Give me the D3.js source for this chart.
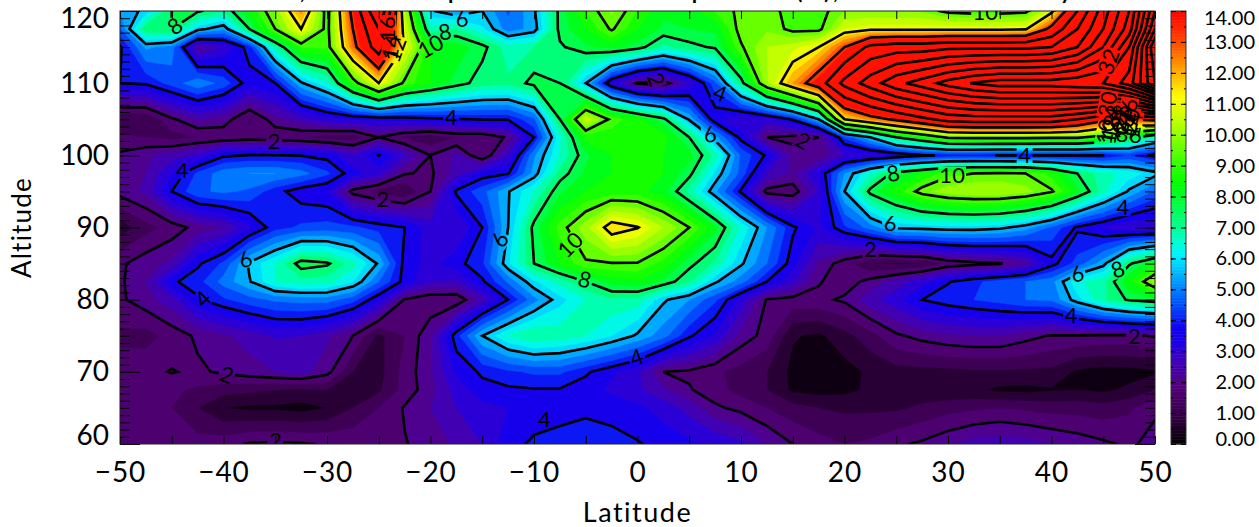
<!DOCTYPE html>
<html>
<head>
<meta charset="utf-8">
<script src="https://cdn.jsdelivr.net/npm/d3@7"></script>
<style>
  body { margin: 0; background: #fff; }
  svg text { font-family: Lato, sans-serif; fill: #000; }
</style>
</head>
<body>
<svg width="1259" height="527"></svg>
<script>
// grid axes, rows below run from lat -50 to 50
const lats = d3.range(-50, 50.1, 2.5);
const alts = [60, 65, 67.5, 70, 75, 80, 82.5, 85, 90, 95, 97.5, 100, 102.5, 105, 110, 115, 117.5, 120];

const alt60 = [1.7,1.7,1.7,1.7,1.8,2.05,2.1,2.05,1.95,1.9, 1.9,1.97,2.2,2.6,3.0,3.8,4.1,4.2,4.25,4.2, 4.05,3.8,3.6,3.4,3.1,2.5,2.0,1.7,1.5,1.6, 1.9,2.1,2.4,2.7,2.8,2.7,2.5,2.3,2.1,1.9,2.2];
const alt65 = [1.6,1.6,1.5,1.0,0.5,0.4,0.4,0.3,0.5,1.0, 1.5,2.05,2.5,3.0,3.3,3.5,3.7,3.8,3.9,3.8, 3.6,3.3,2.8,2.1,1.85,1.5,1.2,1.0,0.9,0.9, 0.9,1.1,1.3,1.4,1.5,1.4,1.3,1.3,1.2,1.4,1.9];
const alt67 = [1.7,1.7,1.6,1.4,1.2,1.1,1.0,0.9,1.0,0.9, 0.9,1.7,2.3,3.2,3.8,3.9,3.95,3.95,3.7,3.4, 3.1,2.6,2.05,1.7,1.3,1.0,0.4,0.3,0.35,0.6, 0.7,0.7,0.6,0.55,0.4,0.35,0.45,0.5,0.4,0.6,1.0];
const alt70 = [1.7,1.85,2.03,1.9,2.1,2.3,2.5,2.7,2.2,1.0, 0.8,1.7,2.4,3.6,4.1,4.4,4.6,4.6,4.1,3.6, 3.1,2.0,1.9,1.6,1.3,1.0,0.35,0.2,0.3,0.6, 0.8,0.8,0.85,0.9,0.9,0.9,0.85,0.4,0.25,0.3,0.4];
const alt75 = [1.4,1.3,1.7,2.1,2.4,2.7,3.05,3.0,2.6,2.0, 0.85,1.5,2.4,4.3,6.0,7.0,7.5,7.3,7.0,6.5, 5.9,5.2,4.1,3.4,2.3,1.8,0.55,0.4,0.8,1.3, 1.9,2.2,2.4,2.5,2.5,2.2,1.95,1.95,1.9,1.9,2.05];
const alt80 = [1.9,2.3,2.8,3.9,4.4,4.8,5.1,5.2,5.2,4.7, 3.6,1.95,1.6,1.6,2.7,4.0,5.3,6.3,7.0,7.4, 7.3,6.1,5.5,4.6,3.3,1.95,1.8,1.85,2.1,2.8, 3.3,4.0,4.3,4.5,4.7,5.0,5.1,6.3,7.4,8.1,8.4];
const alt82 = [1.9,2.5,3.9,4.3,5.2,5.95,7.0,7.3,7.2,6.5, 5.0,3.8,3.0,2.9,3.9,5.1,6.4,7.2,8.0,8.7, 8.9,8.4,7.5,6.1,5.2,4.0,3.1,2.05,1.7,2.2, 2.7,3.3,3.95,4.4,4.7,5.0,5.3,6.9,7.3,9.0,10.8];
const alt85 = [1.9,2.3,2.6,3.9,4.6,6.1,7.0,8.3,8.1,7.2, 5.9,3.8,3.3,3.8,4.4,6.4,8.0,9.0,9.9,9.95, 9.95,9.3,8.2,7.4,6.1,5.0,3.7,2.4,1.7,1.0, 0.9,1.0,1.6,1.8,1.95,2.4,3.8,4.7,5.8,7.9,8.9];
const alt90 = [0.7,1.3,1.7,2.2,2.5,3.4,4.3,4.6,4.7,4.6, 4.3,4.0,3.2,3.0,4.0,6.0,8.2,9.7,10.8,12.5, 12.05,11,10,8.7,6.9,5.5,4.1,3.4,4.4,5.2, 6.1,6.2,6.3,6.3,6.15,5.7,4.9,3.9,3.4,3,3];
const alt95 = [2.2,2.6,4.0,4.9,5.1,4.9,4.2,3.7,3.5,1.8, 1.3,1,2,4.1,4.8,5.95,7,8.4,9,9.2, 9.2,8.7,7.3,5.6,3.9,1.8,1.7,3,6,8.2, 9.2,10.3,10.8,11,11,10.7,10.1,8.7,7.2,5.9,4.9];
const alt97 = [2.15,2.5,3.5,4.6,5.3,5.5,5.5,5.2,4.6,3.7, 3.2,2.05,1.9,2.7,3.7,3.95,5.7,7.7,8.6,9, 9,9,8.2,6.4,4.8,3,2.4,3.5,5.5,7, 8.3,9,9.8,10,10.1,10,9.3,8,7.2,6.8,6.2];
const alt100 = [2.1,2.4,2.7,3.1,3.9,4.03,4.02,3.98,3.8,3.0, 4.02,3.0,2.0,2.6,1.5,3.0,5.4,7.0,8.4,9, 9,9,8.7,7.3,4.9,3.9,2.3,2.1,3,3.2, 3.5,3.9,4.1,4.1,3.98,3.97,3.97,3.97,3.98,4.5,3.8];
const alt102 = [1.6,1.5,1.3,1.5,1.6,1.7,1.6,1.5,1.3,1.2, 2.0,1.4,1.1,1.5,1.5,2.1,4.0,6.9,9.2,9.2, 9.2,9.2,8,5.7,3.8,2.0,1.8,2.0,4.6,6, 8,9,10.2,10.3,10.3,10.3,10.2,10.2,9.5,8.5,7];
const alt105 = [1.0,1.0,1.9,2.5,2.3,1.4,2.3,2.8,3.3,3.5, 3.6,3.7,3.85,3.95,4.05,4.05,4.9,8,11.4,9.8, 9.1,8.2,5.9,3.6,3,3.2,4.1,6,12,13.3, 14.3,15.5,16.7,17,17,17,17,16,14.5,14,14.5];
const alt110 = [4,4.1,4.7,5.4,4.8,3.7,4,5.9,6.9,9.5, 12,9.8,9,8.3,7.7,7.6,8.2,8,6,3.4, 1.9,1.7,3,4.8,7.7,10.9,13,15,18.6,21, 23.4,25,26.8,28.2,29,29,29,29.5,30,33,40];
const alt115 = [3.9,5.6,5.3,2.3,3,4.3,7.3,9.5,9.6,13.5, 17,11.8,9,8.8,8.2,7.2,7.5,7.9,8.4,8.7, 8.3,7.3,7.8,8.1,9.9,11,11.3,12,14,16.5, 17,17,17.5,17.5,17.5,17.5,18,20,24,30,42];
const alt117 = [4.9,7.9,8,6.2,5.6,8,10,12,9.7,14, 18,11.5,7.2,7.5,6.6,5.2,5.7,8.2,9,10.1, 9,8.4,8.5,8.6,10.3,10.4,9.8,9.8,11.5,11.8, 11.8,11.8,11.8,11.8,11.8,11.9,14.5,18,22,27,38];
const alt120 = [5.5,6.2,8,8.1,7.5,9,10.6,13.2,9.6,14.5, 20,11,6.1,5.5,6,4.9,5.9,8.2,9.5,10.6, 9.5,8.6,8.7,9.5,10.2,10.3,9.7,9.7,10.5,10.5, 10.5,10.4,9.8,9.7,9.7,9.8,11.7,16,21,26,36];

const rows = [alt60, alt65, alt67, alt70, alt75, alt80, alt82, alt85, alt90, alt95, alt97, alt100, alt102, alt105, alt110, alt115, alt117, alt120];

// contour labels: lat, alt, text, rotation
const contourLabels = [
  [-44.7,117.9,"8",-35],[-17,118.9,"6",-10],[-18.6,117.1,"8",-10],[-20,115.1,"10",-30],
  [-23.4,114.7,"12",-70],[-23.8,115,"14",-80],[-24.2,117.5,"16",-90],
  [-44,98,"4",0],[-35.1,102,"2",0],[-18,105.3,"4",0],[-24.6,93.9,"2",0],[-37.9,85.6,"6",-20],
  [-42,80.1,"4",-45],[-39.7,69.6,"2",20],[-35,60.6,"2",0],[-9,63.5,"4",0],[-0.1,72,"4",-20],
  [-13.3,88.3,"6",-60],[-5.1,82.8,"8",15],[-6.5,87.6,"10",-45],[1.8,110.5,"2",70],[8,108.6,"4",20],
  [7,102.9,"6",-10],[16,102,"2",30],[30.4,97.2,"10",0],[24.7,97.5,"8",-10],[24.4,90.6,"6",0],
  [37.4,100.1,"4",0],[46.9,92.8,"4",0],[42.5,83.6,"6",-15],[46.4,84.2,"8",-20],[41.9,77.9,"4",0],
  [48,75,"2",0],[22.5,87,"2",0],[33.6,119.9,"10",0],[45.5,113,"32",-70],
  [45.4,107.1,"30",-80],[46.6,105.3,"28",-80],[47.4,106.1,"26",-80],[45.8,105,"24",-80],
  [46.8,104.7,"22",-80],[47.6,104.7,"20",-80],[45.7,103.9,"18",-80],[47.1,103.9,"16",-80],
  [47.9,104.2,"14",-80],[45.6,103.3,"12",-80],[45.2,103.3,"10",-80],[46.8,102.9,"8",0],[48.1,102.8,"6",0]
];

const barTicks = d3.range(0, 14.1, 1);
const colorStops = [0, 1, 2, 3, 3.5, 4, 5, 5.5, 6, 6.5, 7, 7.5, 8, 9, 10, 11, 12, 13, 14, 15];
const colorHex = ["#000000","#360048","#54007c","#3a00c4","#1c00e8","#1000f0","#0060ff","#0090ff","#00c0ff","#00f0ff","#00ffd0","#00ff90","#00ff60","#00ff00","#50ff00","#b0ff00","#ffff00","#ffa000","#ff4000","#ff0000"];

const svg = d3.select("svg"),
    margin = { top: 11, right: 104, bottom: 83, left: 120 },
    width = 1259 - margin.left - margin.right,
    height = 527 - margin.top - margin.bottom;

const x = d3.scaleLinear().domain([-50, 50]).range([margin.left, margin.left + width]);
const y = d3.scaleLinear().domain([60, 120]).range([margin.top + height, margin.top]);
const color = d3.scaleLinear().domain(colorStops).range(colorHex).clamp(true);

// grid index to pixel, rows are not evenly spaced
const colToX = d3.scaleLinear().domain(d3.range(lats.length)).range(lats.map(x));
const rowToY = d3.scaleLinear().domain(d3.range(alts.length)).range(alts.map(y));

const values = rows.flat();
const gridPath = d3.geoPath(d3.geoTransform({
    point: function(px, py) {
        this.stream.point(colToX(px - 0.5), rowToY(py - 0.5));
    }
}));

const contour = d3.contours().size([lats.length, alts.length]);

svg.append("clipPath").attr("id", "plot")
    .append("rect")
    .attr("x", margin.left).attr("y", margin.top)
    .attr("width", width).attr("height", height);

// label gaps in the contour lines
const mask = svg.append("mask").attr("id", "gaps").attr("maskUnits", "userSpaceOnUse")
    .attr("x", 0).attr("y", 0).attr("width", 1259).attr("height", 527);
mask.append("rect").attr("width", 1259).attr("height", 527).attr("fill", "#fff");
mask.selectAll("rect.gap").data(contourLabels).enter().append("rect")
    .attr("class", "gap")
    .attr("x", d => -d[2].length * 6 - 2)
    .attr("y", -9)
    .attr("width", d => d[2].length * 12 + 4)
    .attr("height", 18)
    .attr("fill", "#000")
    .attr("transform", d => `translate(${x(d[0])},${y(d[1])}) rotate(${d[3]})`);

const plot = svg.append("g").attr("clip-path", "url(#plot)");

// filled bands, half a unit wide, red above 15
const bandLevels = d3.range(0, 15, 0.5);
plot.append("rect")
    .attr("x", margin.left).attr("y", margin.top)
    .attr("width", width).attr("height", height)
    .attr("fill", color(0));
plot.selectAll("path.band")
    .data(contour.thresholds(bandLevels)(values))
    .enter().append("path")
    .attr("class", "band")
    .attr("d", gridPath)
    .attr("fill", d => color(d.value + 0.25))
    .attr("stroke", d => color(d.value + 0.25))
    .attr("stroke-width", 0.5);

// lines every 2 units
plot.append("g").attr("mask", "url(#gaps)")
    .selectAll("path.line")
    .data(contour.thresholds(d3.range(2, 60, 2))(values))
    .enter().append("path")
    .attr("class", "line")
    .attr("d", gridPath)
    .attr("fill", "none")
    .attr("stroke", "#000")
    .attr("stroke-width", 2.6);

plot.selectAll("text.clabel")
    .data(contourLabels)
    .enter().append("text")
    .attr("class", "clabel")
    .attr("text-anchor", "middle")
    .attr("dy", "0.36em")
    .attr("font-size", 22)
    .attr("transform", d => `translate(${x(d[0])},${y(d[1])}) rotate(${d[3]})`)
    .text(d => d[2]);

// frame and axes
function tickLayer(g, axis) {
    g.call(axis);
    g.select(".domain").remove();
    g.selectAll("line").attr("stroke", "#000");
}
const bottomY = margin.top + height, rightX = margin.left + width;
const latMinor = d3.range(-50, 51, 5), latMajor = d3.range(-50, 51, 10);
const altMinor = d3.range(60, 121, 1), altMajor = d3.range(60, 121, 10);

svg.append("g").attr("transform", `translate(0,${bottomY})`)
    .call(tickLayer, d3.axisBottom(x).tickValues(latMinor).tickSize(-8).tickFormat(""));
svg.append("g").attr("transform", `translate(0,${margin.top})`)
    .call(tickLayer, d3.axisTop(x).tickValues(latMinor).tickSize(-8).tickFormat(""));
[[d3.axisLeft, margin.left], [d3.axisRight, rightX]].forEach(([axis, pos]) => {
    svg.append("g").attr("transform", `translate(${pos},0)`)
        .call(tickLayer, axis(y).tickValues(altMinor).tickSize(-10).tickFormat(""));
    svg.append("g").attr("transform", `translate(${pos},0)`)
        .call(tickLayer, axis(y).tickValues(altMajor).tickSize(-20).tickFormat(""));
});

svg.append("rect")
    .attr("x", margin.left).attr("y", margin.top)
    .attr("width", width).attr("height", height)
    .attr("fill", "none").attr("stroke", "#222").attr("stroke-width", 1);

const xLabels = svg.append("g").attr("transform", `translate(0,${bottomY})`)
    .call(d3.axisBottom(x).tickValues(latMajor).tickSize(0).tickPadding(18).tickFormat(d => d < 0 ? "\u2212" + (-d) : d));
xLabels.select(".domain").remove();
xLabels.selectAll("text").attr("font-size", 28).style("font-family", "Lato, sans-serif").style("letter-spacing", "1px").attr("fill", "#000");

const yLabels = svg.append("g").attr("transform", `translate(${margin.left},0)`)
    .call(d3.axisLeft(y).tickValues(altMajor).tickSize(0).tickPadding(11));
yLabels.select(".domain").remove();
yLabels.selectAll("text").attr("font-size", 28).style("font-family", "Lato, sans-serif").attr("fill", "#000")
    .attr("dy", d => d === 60 ? "-0.0em" : d === 120 ? "0.6em" : "0.32em");

svg.append("text")
    .attr("x", x(0)).attr("y", 522)
    .attr("text-anchor", "middle").attr("font-size", 27)
    .style("letter-spacing", "1.5px")
    .text("Latitude");
svg.append("text")
    .attr("transform", `translate(31,${y(90)}) rotate(-90)`)
    .attr("text-anchor", "middle").attr("font-size", 26)
    .style("letter-spacing", "1.2px")
    .text("Altitude");

// title sits mostly above the top of the page
svg.append("text")
    .attr("x", 199).attr("y", -2).attr("font-size", 30)
    .style("letter-spacing", "0.6px")
    .text("Diurnal, Solar Temperature Tidal Amplitude (K), Mean of January");

// colour bar, its labels run one unit short of the fill scale
const barX = 1171, barW = 15;
const barY = d3.scaleLinear().domain([0, 14]).range([bottomY, margin.top]);
const barSteps = d3.range(0, 14, 0.05);
svg.append("g").selectAll("rect")
    .data(barSteps)
    .enter().append("rect")
    .attr("x", barX).attr("width", barW)
    .attr("y", d => barY(d + 0.05))
    .attr("height", d => barY(d) - barY(d + 0.05) + 0.5)
    .attr("fill", d => color(d * 15 / 14));
svg.append("rect")
    .attr("x", barX).attr("y", margin.top).attr("width", barW).attr("height", height)
    .attr("fill", "none").attr("stroke", "#333");

const barMinor = d3.range(0, 14.1, 0.5);
[[d3.axisLeft, barX], [d3.axisRight, barX + barW]].forEach(([axis, pos]) => {
    svg.append("g").attr("transform", `translate(${pos},0)`)
        .call(tickLayer, axis(barY).tickValues(barMinor).tickSize(-2).tickFormat(""));
    svg.append("g").attr("transform", `translate(${pos},0)`)
        .call(tickLayer, axis(barY).tickValues(barTicks).tickSize(-5).tickFormat(""));
});

svg.append("g").selectAll("text")
    .data(barTicks)
    .enter().append("text")
    .attr("x", 1255)
    .attr("y", d => barY(d))
    .attr("dy", d => d === 0 ? "0.1em" : d === 14 ? "0.7em" : "0.35em")
    .attr("text-anchor", "end")
    .attr("font-size", 20)
    .text(d => d.toFixed(2));
</script>
</body>
</html>
